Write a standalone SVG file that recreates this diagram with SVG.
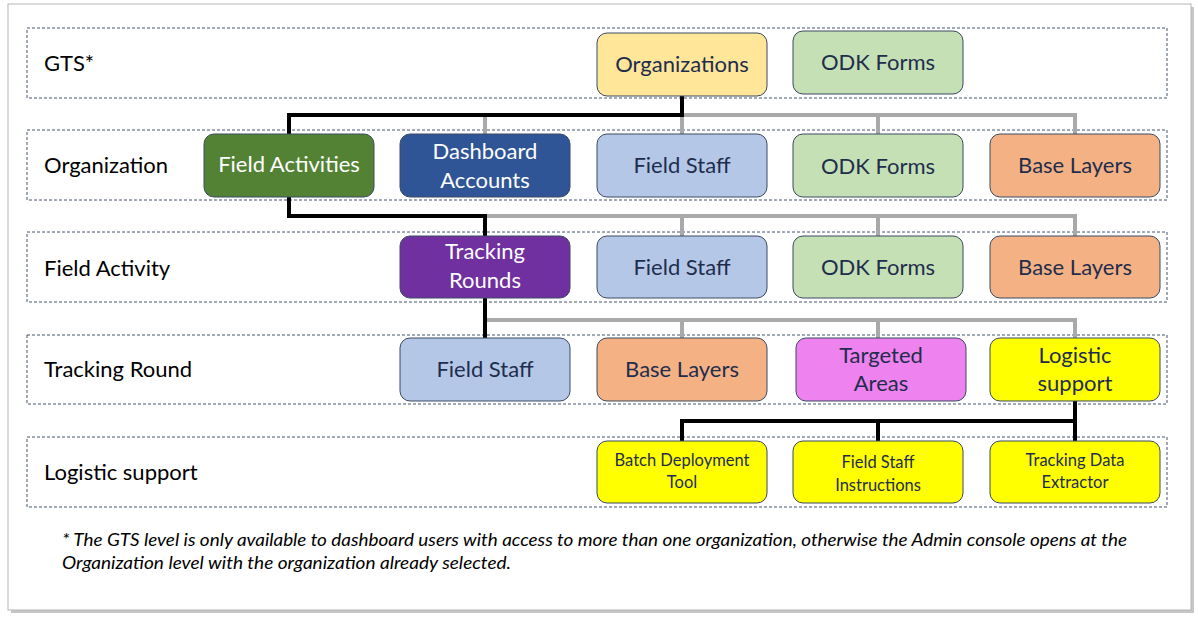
<svg xmlns="http://www.w3.org/2000/svg" width="1198" height="620" viewBox="0 0 1198 620">
<style>
.lane{fill:none;stroke:#44546a;stroke-width:1;stroke-dasharray:3 2}
.lbl{font-family:Lato,"Liberation Sans",sans-serif;font-size:22px;fill:#000}
.n rect{stroke:#3b4a61;stroke-width:1}
.t{font-family:Lato,"Liberation Sans",sans-serif;font-size:22px;fill:#1f2d4d;text-anchor:middle}
.w{fill:#fff}
.s{font-size:16.5px}
.blk{fill:none;stroke:#000;stroke-width:4}
.gry{fill:none;stroke:#a9a9a9;stroke-width:4}
.fn{font-family:Lato,"Liberation Sans",sans-serif;font-size:16.5px;font-style:italic;fill:#000}
</style>
<rect width="1198" height="620" fill="#fff"/>
<rect x="11" y="7" width="1183" height="606" fill="#a0a0a0" opacity="0.6"/>
<rect x="8" y="4" width="1183" height="606" fill="#fff" stroke="#b5b5b5" stroke-width="1"/>
<g id="lanes">
<rect class="lane" x="27" y="28" width="1140" height="70"/>
<rect class="lane" x="27" y="130" width="1140" height="70"/>
<rect class="lane" x="27" y="232" width="1140" height="70"/>
<rect class="lane" x="27" y="335" width="1140" height="69"/>
<rect class="lane" x="27" y="437" width="1140" height="70"/>
<text class="lbl" x="44" y="71">GTS*</text>
<text class="lbl" x="44" y="173">Organization</text>
<text class="lbl" x="44" y="276">Field Activity</text>
<text class="lbl" x="44" y="377">Tracking Round</text>
<text class="lbl" x="44" y="480">Logistic support</text>
</g>
<g id="connectors">
<polyline class="gry" points="682,115 1075,115 1075,134"/>
<line class="gry" x1="485" y1="115" x2="485" y2="134"/>
<line class="gry" x1="682" y1="115" x2="682" y2="134"/>
<line class="gry" x1="878" y1="115" x2="878" y2="134"/>
<polyline class="blk" points="682,96 682,115 289,115 289,134"/>
<polyline class="gry" points="485,216 1075,216 1075,236"/>
<line class="gry" x1="682" y1="216" x2="682" y2="236"/>
<line class="gry" x1="878" y1="216" x2="878" y2="236"/>
<polyline class="blk" points="289,197 289,216 485,216 485,236"/>
<polyline class="gry" points="485,320 1075,320 1075,338"/>
<line class="gry" x1="682" y1="320" x2="682" y2="338"/>
<line class="gry" x1="878" y1="320" x2="878" y2="338"/>
<line class="blk" x1="485" y1="298" x2="485" y2="338"/>
<polyline class="blk" points="1075,401 1075,441"/>
<polyline class="blk" points="682,441 682,421 1075,421"/>
<line class="blk" x1="878" y1="421" x2="878" y2="441"/>
</g>
<g id="gts-organizations" class="n"><rect x="597" y="33" width="170" height="63" rx="10" fill="#ffe699"/><text class="t" x="682" y="72">Organizations</text></g>
<g id="gts-odk" class="n"><rect x="793" y="31" width="170" height="63" rx="10" fill="#c5e0b4"/><text class="t" x="878" y="70">ODK Forms</text></g>
<g id="org-field-activities" class="n"><rect x="204" y="134" width="170" height="63" rx="10" fill="#548235"/><text class="t w" x="289" y="172">Field Activities</text></g>
<g id="org-dashboard" class="n"><rect x="400" y="134" width="170" height="63" rx="10" fill="#2f5597"/><text class="t w" x="485" y="159">Dashboard</text><text class="t w" x="485" y="188">Accounts</text></g>
<g id="org-field-staff" class="n"><rect x="597" y="134" width="170" height="63" rx="10" fill="#b4c7e7"/><text class="t" x="682" y="173">Field Staff</text></g>
<g id="org-odk" class="n"><rect x="793" y="134" width="170" height="63" rx="10" fill="#c5e0b4"/><text class="t" x="878" y="174">ODK Forms</text></g>
<g id="org-base" class="n"><rect x="990" y="134" width="170" height="63" rx="10" fill="#f4b183"/><text class="t" x="1075" y="173">Base Layers</text></g>
<g id="fa-tracking-rounds" class="n"><rect x="400" y="236" width="170" height="62" rx="10" fill="#7030a0"/><text class="t w" x="485" y="259">Tracking</text><text class="t w" x="485" y="288">Rounds</text></g>
<g id="fa-field-staff" class="n"><rect x="597" y="236" width="170" height="62" rx="10" fill="#b4c7e7"/><text class="t" x="682" y="275">Field Staff</text></g>
<g id="fa-odk" class="n"><rect x="793" y="236" width="170" height="62" rx="10" fill="#c5e0b4"/><text class="t" x="878" y="275">ODK Forms</text></g>
<g id="fa-base" class="n"><rect x="990" y="236" width="170" height="62" rx="10" fill="#f4b183"/><text class="t" x="1075" y="275">Base Layers</text></g>
<g id="tr-field-staff" class="n"><rect x="400" y="338" width="170" height="63" rx="10" fill="#b4c7e7"/><text class="t" x="485" y="377">Field Staff</text></g>
<g id="tr-base" class="n"><rect x="597" y="338" width="170" height="63" rx="10" fill="#f4b183"/><text class="t" x="682" y="377">Base Layers</text></g>
<g id="tr-targeted" class="n"><rect x="796" y="338" width="170" height="63" rx="10" fill="#ee82ee"/><text class="t" x="881" y="363">Targeted</text><text class="t" x="881" y="391">Areas</text></g>
<g id="tr-logistic" class="n"><rect x="990" y="338" width="170" height="63" rx="10" fill="#ffff00"/><text class="t" x="1075" y="363">Logistic</text><text class="t" x="1075" y="391">support</text></g>
<g id="ls-batch" class="n"><rect x="597" y="441" width="170" height="62" rx="10" fill="#ffff00"/><text class="t s" x="682" y="466">Batch Deployment</text><text class="t s" x="682" y="488">Tool</text></g>
<g id="ls-instructions" class="n"><rect x="793" y="441" width="170" height="62" rx="10" fill="#ffff00"/><text class="t s" x="878" y="468">Field Staff</text><text class="t s" x="878" y="491">Instructions</text></g>
<g id="ls-extractor" class="n"><rect x="990" y="441" width="170" height="62" rx="10" fill="#ffff00"/><text class="t s" x="1075" y="466">Tracking Data</text><text class="t s" x="1075" y="488">Extractor</text></g>
<g id="footnote">
<text class="fn" x="62" y="546" textLength="1065" lengthAdjust="spacingAndGlyphs">* The GTS level is only available to dashboard users with access to more than one organization, otherwise the Admin console opens at the</text>
<text class="fn" x="62" y="569" textLength="449" lengthAdjust="spacingAndGlyphs">Organization level with the organization already selected.</text>
</g>
</svg>
